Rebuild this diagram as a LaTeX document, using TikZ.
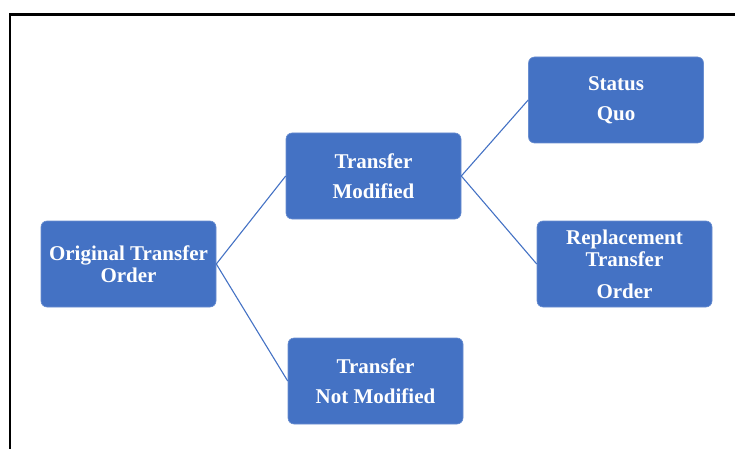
\documentclass[tikz,border=0pt]{standalone}
\usepackage{fontspec}
\setmainfont{Liberation Serif}
\usepackage{xcolor}
\usepackage{tikz}
\usetikzlibrary{positioning}

\definecolor{boxblue}{HTML}{4472C4}

\begin{document}
\begin{tikzpicture}[
    x=1pt, y=-1pt,
    box/.style={rectangle, rounded corners=6pt, fill=boxblue, draw=boxblue!80!white, line width=0.6pt, minimum width=175pt, minimum height=86pt, align=center, text=white, font=\bfseries\fontsize{21}{22.5}\selectfont},
    link/.style={draw=boxblue, line width=1.1pt}
]
\useasboundingbox (0,0) rectangle (735,449);

% Frame
\draw[line width=2.5pt, line cap=rect] (10,460) -- (10,14.5) -- (740,14.5);

% Boxes
\node[box] (original) at (128.5,264) {Original Transfer\\Order};
\node[box] (modified) at (373.5,176) {Transfer\\[7.5pt]Modified};
\node[box] (notmodified) at (375.5,381) {Transfer\\[8pt]Not Modified};
\node[box] (statusquo) at (616,100) {Status\\[7.5pt]Quo};
\node[box] (replacement) at (624.5,264) {Replacement\\Transfer\\[9pt]Order};

% Connections
\draw[link] (original.east) -- (modified.west);
\draw[link] (original.east) -- (notmodified.west);
\draw[link] (modified.east) -- (statusquo.west);
\draw[link] (modified.east) -- (replacement.west);

\end{tikzpicture}
\end{document}
